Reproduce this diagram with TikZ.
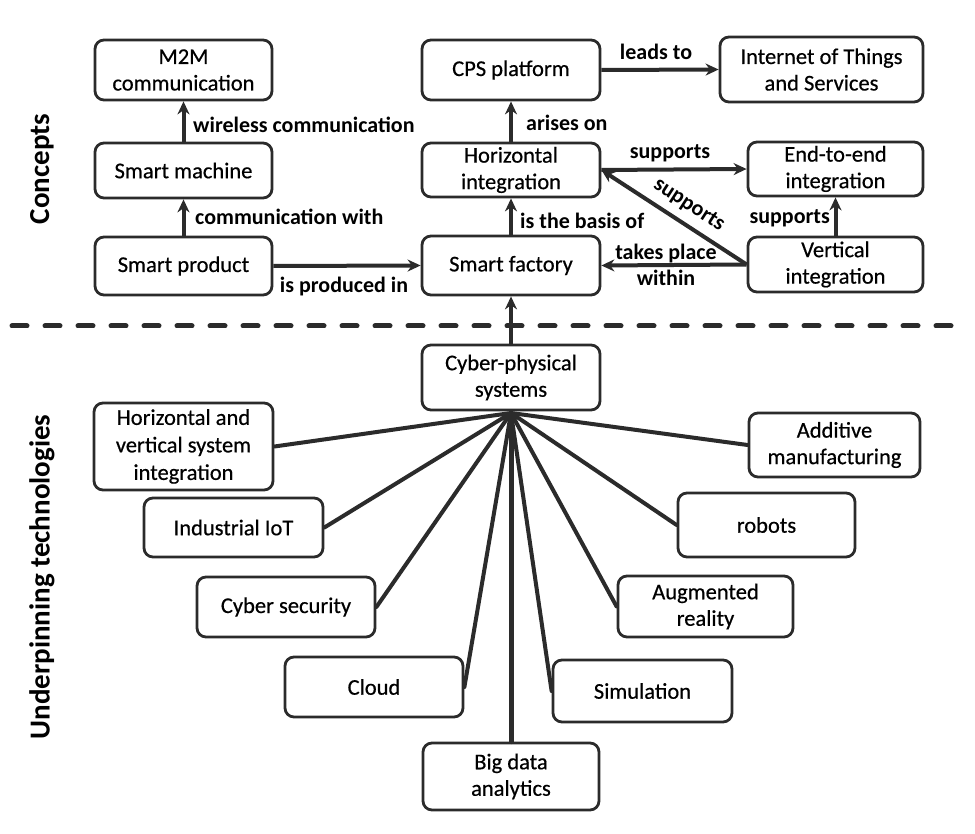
\documentclass[tikz,border=0pt]{standalone}
\usepackage{fontspec}
\setmainfont{Carlito}
\newfontfamily\boxfont{Carlito}[FakeBold=0.5]
\usetikzlibrary{arrows.meta}
\definecolor{ink}{HTML}{2B2B2B}
\tikzset{
  box/.style={draw=ink, line width=2.8pt, rounded corners=9pt, fill=white, align=center,
    inner sep=0pt, font=\boxfont\fontsize{22.5}{26.5}\selectfont, text=black},
  arr/.style={draw=ink, line width=4pt, -{Stealth[length=13pt,width=12pt]}},
  spoke/.style={draw=ink, line width=4pt, line cap=round},
  lbl/.style={font=\fontsize{22}{26}\selectfont\bfseries, text=black, inner sep=0pt, align=center},
  sidelbl/.style={font=\fontsize{29}{32}\selectfont\bfseries, text=black, inner sep=0pt},
}
\begin{document}
\begin{tikzpicture}[x=1pt,y=-1pt]
\useasboundingbox (0,0) rectangle (975,834);
% side labels
\node[sidelbl, rotate=90] (concepts) at (42,169) {Concepts};
\node[sidelbl, rotate=90] (underp) at (42,577) {Underpinning technologies};
% concept boxes
\node[box, minimum width=177pt, minimum height=60pt] (m2m) at (183.5,70) {M2M\\communication};
\node[box, minimum width=177pt, minimum height=55pt] (smachine) at (183.5,170.5) {Smart machine};
\node[box, minimum width=177pt, minimum height=58pt] (sproduct) at (183.5,266) {Smart product};
\node[box, minimum width=178pt, minimum height=60pt] (cpsp) at (511,70) {CPS platform};
\node[box, minimum width=203pt, minimum height=65pt] (iots) at (821.5,69.5) {Internet of Things\\and Services};
\node[box, minimum width=178pt, minimum height=54pt] (hint) at (511,170) {Horizontal\\integration};
\node[box, minimum width=175pt, minimum height=54pt] (e2e) at (835.5,169) {End-to-end\\integration};
\node[box, minimum width=178pt, minimum height=59pt] (sfactory) at (511,265.5) {Smart factory};
\node[box, minimum width=175pt, minimum height=55pt] (vint) at (835.5,264.5) {Vertical\\integration};
% concept arrows
\draw[arr] (smachine.north) -- (m2m.south);
\node[lbl, anchor=west] (l1) at (193,125) {wireless communication};
\draw[arr] (sproduct.north) -- (smachine.south);
\node[lbl, anchor=west] (l2) at (195,217) {communication with};
\draw[arr] (sproduct.east) -- (sfactory.west);
\node[lbl] (l3) at (344,287) {is produced in};
\draw[arr] (hint.north) -- (cpsp.south);
\node[lbl, anchor=west] (l4) at (526,123) {arises on};
\draw[arr] (cpsp.east) -- (iots.west);
\node[lbl] (l5) at (656,52) {leads to};
\draw[arr] (sfactory.north) -- (hint.south);
\node[lbl, anchor=west] (l6) at (520,221) {is the basis of};
\draw[arr] (hint.east) -- (e2e.west);
\node[lbl] (l7) at (670,153) {supports};
\draw[arr] (vint.north) -- (e2e.south);
\node[lbl, anchor=east] (l8) at (830,218) {supports};
\draw[arr] (vint.west) -- (sfactory.east);
\node[lbl] (l9) at (666,265) {takes place\\within};
\draw[arr] (vint.west) -- (hint.east);
\node[lbl, rotate=-33] (l10) at (689,205) {supports};
% separator
\coordinate (dl) at (12,326);
\coordinate (dr) at (962,326);
\draw[draw=ink, line width=5pt, line cap=round, dash pattern=on 15pt off 18pt] (dl) -- (dr);
% technologies
\node[box, minimum width=178pt, minimum height=65pt] (cps) at (511,377.5) {Cyber-physical\\systems};
\draw[arr] (cps.north) -- (sfactory.south);
\coordinate (hub) at (511,413);
\node[box, minimum width=179pt, minimum height=87pt, font=\boxfont\fontsize{22.5}{27.5}\selectfont] (hvsi) at (183.5,446.5) {Horizontal and\\vertical system\\integration};
\node[box, minimum width=179pt, minimum height=59pt] (iiot) at (233.5,527.5) {Industrial IoT};
\node[box, minimum width=178pt, minimum height=60pt] (cysec) at (286,607) {Cyber security};
\node[box, minimum width=178pt, minimum height=60pt] (cloud) at (374,687) {Cloud};
\node[box, minimum width=176pt, minimum height=67pt] (bda) at (511,776.5) {Big data\\analytics};
\node[box, minimum width=179pt, minimum height=62pt] (sim) at (642.5,691) {Simulation};
\node[box, minimum width=175pt, minimum height=61pt] (ar) at (705.5,606.5) {Augmented\\reality};
\node[box, minimum width=177pt, minimum height=64pt] (robots) at (766.5,525) {robots};
\node[box, minimum width=171pt, minimum height=64pt] (addm) at (834.5,445) {Additive\\manufacturing};
\draw[spoke] (hub) -- (hvsi.east);
\draw[spoke] (hub) -- (iiot.east);
\draw[spoke] (hub) -- (cysec.east);
\draw[spoke] (hub) -- (cloud.east);
\draw[spoke, line width=5pt] (hub) -- (bda.north);
\draw[spoke] (hub) -- (sim.west);
\draw[spoke] (hub) -- (ar.west);
\draw[spoke] (hub) -- (robots.west);
\draw[spoke] (hub) -- (addm.west);
\end{tikzpicture}
\end{document}
